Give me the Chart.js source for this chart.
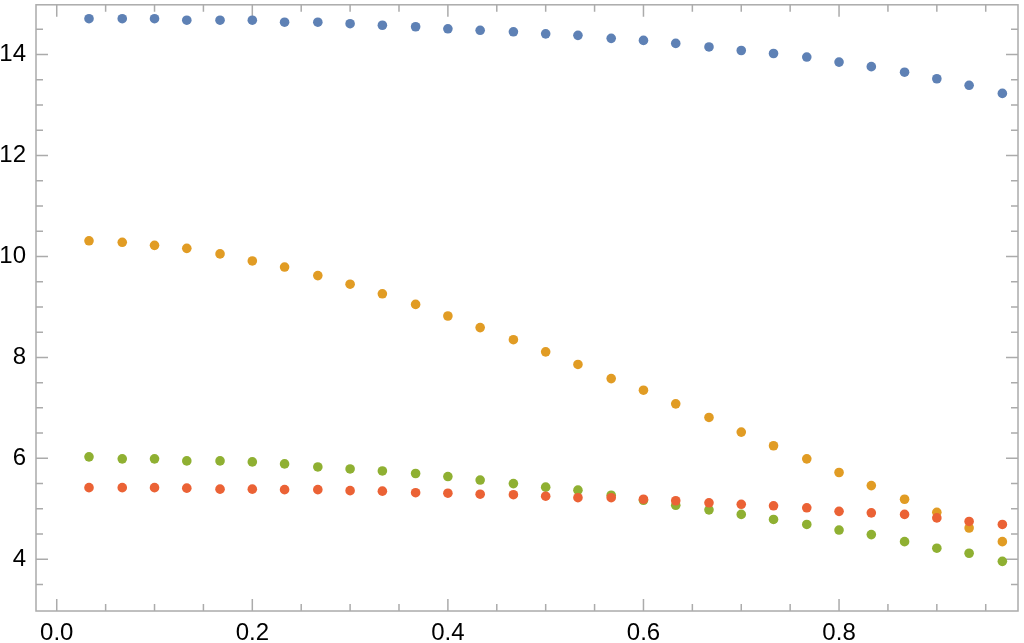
<!DOCTYPE html>
<html>
<head>
  <title>Scatter</title>
  <style>
    body { margin: 0; background: #fff; }
    #wrap { width: 1024px; height: 643px; }
  </style>
</head>
<body>
  <div id="wrap"><canvas id="myChart"></canvas></div>
  <script src="https://cdn.jsdelivr.net/npm/chart.js@4.4.0/dist/chart.umd.min.js"></script>
  <script>
    // x positions of the points (steps of 1/30)
    let xValues = [0.033, 0.067, 0.100, 0.133, 0.167, 0.200, 0.233, 0.267, 0.300, 0.333,
                   0.367, 0.400, 0.433, 0.467, 0.500, 0.533, 0.567, 0.600, 0.633, 0.667,
                   0.700, 0.733, 0.767, 0.800, 0.833, 0.867, 0.900, 0.933, 0.967];

    let blueValues = [14.71, 14.71, 14.71, 14.68, 14.68, 14.68, 14.64, 14.64, 14.61, 14.58,
                      14.55, 14.51, 14.48, 14.45, 14.41, 14.38, 14.32, 14.28, 14.22, 14.15,
                      14.08, 14.02, 13.95, 13.85, 13.76, 13.65, 13.52, 13.39, 13.23];
    let orangeValues = [10.31, 10.28, 10.22, 10.16, 10.05, 9.91, 9.79, 9.62, 9.45, 9.26,
                        9.05, 8.82, 8.59, 8.35, 8.11, 7.86, 7.58, 7.35, 7.08, 6.81,
                        6.52, 6.25, 5.99, 5.72, 5.46, 5.19, 4.93, 4.62, 4.35];
    let greenValues = [6.03, 5.99, 5.99, 5.95, 5.95, 5.93, 5.89, 5.83, 5.79, 5.75,
                       5.70, 5.64, 5.57, 5.50, 5.43, 5.37, 5.27, 5.17, 5.07, 4.98,
                       4.89, 4.79, 4.69, 4.58, 4.49, 4.35, 4.22, 4.12, 3.96];
    let redValues = [5.42, 5.42, 5.42, 5.41, 5.39, 5.39, 5.38, 5.38, 5.36, 5.35,
                     5.32, 5.31, 5.29, 5.28, 5.25, 5.22, 5.22, 5.19, 5.16, 5.12,
                     5.09, 5.06, 5.02, 4.95, 4.92, 4.89, 4.82, 4.75, 4.69];

    let xTickLabels = [0.0, 0.2, 0.4, 0.6, 0.8];
    let yTickLabels = [4, 6, 8, 10, 12, 14];

    function toPoints(ys) {
      return xValues.map((x, i) => ({ x: x, y: ys[i] }));
    }

    let frameColor = '#ababab';
    let labelFont = { family: "'Liberation Sans', Arial, sans-serif", size: 24 };

    // frame with inward ticks on all four sides, like Mathematica
    let frameTicks = {
      id: 'frameTicks',
      beforeDatasetsDraw(chart) {
        let ctx = chart.ctx;
        let a = chart.chartArea;
        let xs = chart.scales.x;
        let ys = chart.scales.y;
        ctx.save();
        ctx.strokeStyle = frameColor;
        ctx.lineWidth = 1.5;
        ctx.strokeRect(a.left, a.top, a.right - a.left, a.bottom - a.top);
        ctx.beginPath();
        for (let i = 0; i * 0.05 < xs.max; i++) {
          let px = xs.getPixelForValue(i * 0.05);
          let len = i % 4 === 0 ? 12 : 7;
          ctx.moveTo(px, a.bottom); ctx.lineTo(px, a.bottom - len);
          ctx.moveTo(px, a.top); ctx.lineTo(px, a.top + len);
        }
        for (let i = 7; i * 0.5 < ys.max; i++) {
          let py = ys.getPixelForValue(i * 0.5);
          let len = i % 4 === 0 ? 12 : 7;
          ctx.moveTo(a.left, py); ctx.lineTo(a.left + len, py);
          ctx.moveTo(a.right, py); ctx.lineTo(a.right - len, py);
        }
        ctx.stroke();
        ctx.restore();
      }
    };

    function series(values, color, order) {
      return {
        data: toPoints(values),
        backgroundColor: color,
        borderWidth: 0,
        pointRadius: 4.8,
        pointHoverRadius: 4.8,
        order: order
      };
    }

    let ctx = document.getElementById('myChart').getContext('2d');
    let chart = new Chart(ctx, {
      type: 'scatter',
      data: {
        datasets: [
          series(blueValues, '#5e81b5', 4),
          series(orangeValues, '#e19c24', 3),
          series(greenValues, '#8fb032', 2),
          series(redValues, '#eb6235', 1)
        ]
      },
      options: {
        responsive: true,
        maintainAspectRatio: false,
        animation: false,
        layout: { padding: { top: 1, right: 6, left: 0, bottom: 0 } },
        plugins: { legend: { display: false }, tooltip: { enabled: false } },
        scales: {
          x: {
            type: 'linear',
            min: -0.0212,
            max: 0.983,
            grid: { display: false, drawTicks: false },
            border: { display: false },
            ticks: {
              padding: 8,
              maxRotation: 0,
              autoSkip: false,
              color: '#000',
              font: labelFont,
              callback: v => v.toFixed(1)
            },
            afterBuildTicks: s => { s.ticks = xTickLabels.map(v => ({ value: v })); },
            afterFit: s => { s.height = 32; s.paddingLeft = 0; s.paddingRight = 0; }
          },
          y: {
            type: 'linear',
            min: 2.976,
            max: 14.985,
            grid: { display: false, drawTicks: false },
            border: { display: false },
            ticks: {
              padding: 10,
              autoSkip: false,
              color: '#000',
              font: labelFont,
              callback: v => String(v)
            },
            afterBuildTicks: s => { s.ticks = yTickLabels.map(v => ({ value: v })); },
            afterFit: s => { s.width = 36; s.paddingTop = 0; s.paddingBottom = 0; }
          }
        }
      },
      plugins: [frameTicks]
    });
  </script>
</body>
</html>
